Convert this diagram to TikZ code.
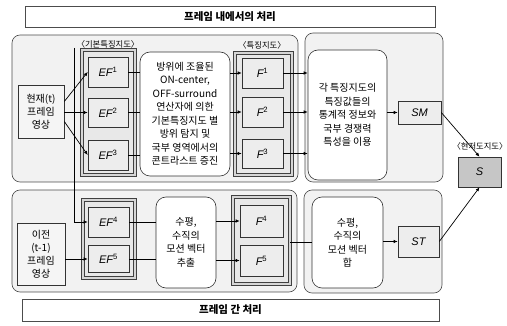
\documentclass[tikz,border=0pt]{standalone}
\usepackage{fontspec}
\setmainfont{Liberation Sans}
\newfontfamily\kr{Noto Sans CJK KR}
\usetikzlibrary{arrows.meta}
\begin{document}
\begin{tikzpicture}[x=1pt,y=-1pt,
  panel/.style={draw=black!70,fill=gray!10,rounded corners=8pt,line width=0.6pt},
  grp/.style={draw=black!75,line width=0.5pt,double=gray!32,double distance=2.2pt,fill=gray!18,inner sep=0pt},
  box/.style={draw=black!80,fill=gray!14,line width=0.6pt,inner sep=0pt,font=\fontsize{11}{12}\selectfont\itshape},
  sbox/.style={box,fill=gray!45},
  tbox/.style={draw=black!80,fill=gray!8,line width=0.6pt,inner sep=0pt,align=center,font=\kr\fontsize{10}{13}\selectfont},
  wbox/.style={draw=black!80,fill=white,rounded corners=10pt,line width=0.6pt,inner sep=0pt,align=center,font=\kr\fontsize{10}{13.5}\selectfont},
  title/.style={draw=black!70,fill=white,line width=0.6pt,inner sep=0pt,font=\kr\bfseries\fontsize{10.5}{12}\selectfont},
  lbl/.style={inner sep=0pt,font=\kr\fontsize{8.3}{9}\selectfont},
  arr/.style={-{Latex[length=4pt,width=3.5pt]},line width=0.7pt},
  ln/.style={line width=0.7pt}]
\useasboundingbox (0,0) rectangle (507,326);

% titles
\node[title,minimum width=410pt,minimum height=21pt] (t1) at (230,16.5) {프레임 내에서의 처리};
\node[title,minimum width=417pt,minimum height=22pt] (t2) at (230.5,310) {프레임 간 처리};

% panels
\draw[panel] (12,35) rectangle (298,182);
\draw[panel] (305,33) rectangle (443,182);
\draw[panel] (12,190) rectangle (297,292);
\draw[panel] (304,190) rectangle (442,293);

% groups
\node[grp,minimum width=53pt,minimum height=125pt] (G1) at (108.5,112.5) {};
\node[grp,minimum width=57pt,minimum height=122pt] (G2) at (263.5,114) {};
\node[grp,minimum width=52pt,minimum height=78pt] (G3) at (109,239) {};
\node[grp,minimum width=57pt,minimum height=87pt] (G4) at (261.5,240.5) {};

\node[lbl] (l1) at (108,44) {〈기본특징지도〉};
\node[lbl] (l2) at (262,45.5) {〈특징지도〉};
\node[lbl] (l3) at (480,146) {〈현저도지도〉};

% top row
\node[tbox,minimum width=46pt,minimum height=53pt] (cur) at (41,111.5) {현재(t)\\프레임\\영상};
\node[box,minimum width=40pt,minimum height=30pt] (EF1) at (108,72) {EF\textsuperscript{\upshape 1}};
\node[box,minimum width=40pt,minimum height=29pt] (EF2) at (108,112.5) {EF\textsuperscript{\upshape 2}};
\node[box,minimum width=40pt,minimum height=30pt] (EF3) at (108,155) {EF\textsuperscript{\upshape 3}};
\node[wbox,minimum width=90pt,minimum height=124pt] (M1) at (185,114)
  {방위에 조율된\\ON-center,\\OFF-surround\\연산자에 의한\\기본특징지도 별\\방위 탐지 및\\국부 영역에서의\\콘트라스트 증진};
\node[box,minimum width=41pt,minimum height=30pt] (F1) at (262.5,73) {F\textsuperscript{\upshape 1}};
\node[box,minimum width=41pt,minimum height=30pt] (F2) at (262.5,112) {F\textsuperscript{\upshape 2}};
\node[box,minimum width=41pt,minimum height=29pt] (F3) at (262.5,153.5) {F\textsuperscript{\upshape 3}};
\node[wbox,minimum width=79pt,minimum height=130pt] (W2) at (347.5,115)
  {각 특징지도의\\특징값들의\\통계적 정보와\\국부 경쟁력\\특성을 이용};
\node[box,minimum width=43pt,minimum height=23pt] (SM) at (419.5,112.5) {SM};
\node[sbox,minimum width=43pt,minimum height=30pt] (S) at (479.5,172) {S};

% bottom row
\node[tbox,minimum width=48pt,minimum height=62pt] (prev) at (41,254) {이전\\(t-1)\\프레임\\영상};
\node[box,minimum width=41pt,minimum height=30pt] (EF4) at (108.5,222) {EF\textsuperscript{\upshape 4}};
\node[box,minimum width=41pt,minimum height=27pt] (EF5) at (108.5,259) {EF\textsuperscript{\upshape 5}};
\node[wbox,minimum width=60pt,minimum height=91pt] (M2) at (186,242.5) {수평,\\수직의\\모션 벡터\\추출};
\node[box,minimum width=43pt,minimum height=32pt] (F4) at (261.5,221) {F\textsuperscript{\upshape 4}};
\node[box,minimum width=43pt,minimum height=31pt] (F5) at (261.5,260.5) {F\textsuperscript{\upshape 5}};
\node[wbox,minimum width=71pt,minimum height=91pt] (W4) at (347.5,242.5) {수평,\\수직의\\모션 벡터\\합};
\node[box,minimum width=41pt,minimum height=31pt] (ST) at (418.5,241.5) {ST};

% connectors top
\draw[arr] ([yshift=10pt]cur.east) -- (EF1.west);
\draw[arr] (cur.east |- EF2.west) -- (EF2.west);
\draw[arr] ([yshift=-10pt]cur.east) -- (EF3.west);
\coordinate (vtop) at (74,48);
\draw[arr] (vtop) |- (EF4.west);
\foreach \n in {1,2,3} {
  \draw[ln] (EF\n.east) -- (EF\n.east -| M1.west);
  \draw[arr] (F\n.west -| M1.east) -- (F\n.west);
  \draw[arr] (F\n.east) -- (F\n.east -| W2.west);
}
\draw[arr] (SM.west -| W2.east) -- (SM.west);
\draw[arr] (SM.east) -- (S.north);
\draw[arr] (ST.east) -- (S.south);

% connectors bottom
\draw[arr] (EF5.west -| prev.east) -- (EF5.west);
\foreach \n in {4,5} {
  \draw[ln] (EF\n.east) -- (EF\n.east -| M2.west);
  \draw[arr] (F\n.west -| M2.east) -- (F\n.west);
}
\draw[ln] (W4.west -| G4.east) -- (W4.west);
\draw[arr] (ST.west -| W4.east) -- (ST.west);
\end{tikzpicture}
\end{document}
